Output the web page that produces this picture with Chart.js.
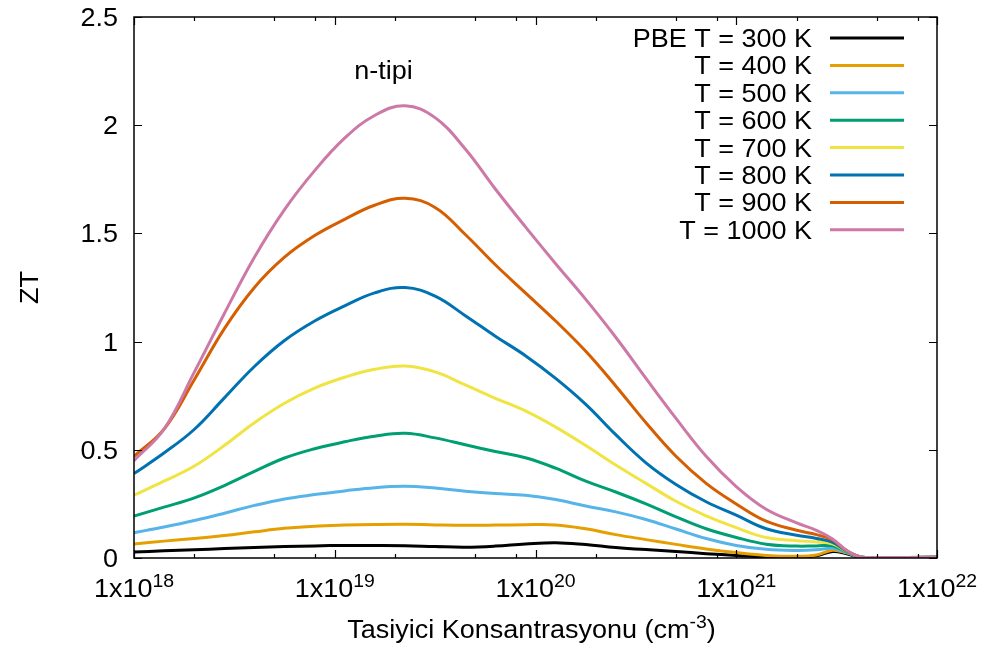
<!DOCTYPE html>
<html lang="tr">
<head>
<meta charset="UTF-8">
<title>ZT - n-tipi</title>
<script src="https://cdn.jsdelivr.net/npm/chart.js"></script>
<style>
  html, body { margin: 0; padding: 0; background: #fff; }
  #wrap { width: 993px; height: 653px; }
</style>
</head>
<body>
<div id="wrap"><canvas id="ztChart" width="993" height="653"></canvas></div>
<script>
// tasiyici konsantrasyonu (cm^-3)
const konsantrasyon = [1.0e18, 1.41e18, 2.0e18, 2.82e18, 3.98e18, 5.62e18, 7.94e18, 1.12e19, 1.58e19, 2.24e19,
  3.16e19, 4.47e19, 6.31e19, 8.91e19, 1.26e20, 1.78e20, 2.51e20, 3.55e20, 5.01e20, 7.08e20,
  1.0e21, 1.41e21, 2.0e21, 2.51e21, 3.02e21, 3.55e21, 4.17e21, 5.0e21, 1.0e22];

// ZT, her sicaklik icin
const zt300 = [0.028, 0.033, 0.038, 0.044, 0.049, 0.053, 0.056, 0.058, 0.058, 0.057,
  0.053, 0.050, 0.055, 0.065, 0.071, 0.062, 0.048, 0.039, 0.030, 0.020,
  0.012, 0.005, 0.003, 0.010, 0.030, 0.020, 0.002, 0.002, 0.003];
const zt400 = [0.065, 0.078, 0.090, 0.104, 0.121, 0.137, 0.147, 0.152, 0.155, 0.156,
  0.153, 0.151, 0.152, 0.154, 0.153, 0.135, 0.108, 0.085, 0.063, 0.042,
  0.025, 0.012, 0.008, 0.014, 0.036, 0.024, 0.003, 0.002, 0.003];
const zt500 = [0.117, 0.143, 0.173, 0.207, 0.243, 0.273, 0.293, 0.310, 0.325, 0.331,
  0.323, 0.309, 0.298, 0.290, 0.270, 0.240, 0.213, 0.178, 0.134, 0.090,
  0.058, 0.040, 0.035, 0.038, 0.045, 0.025, 0.004, 0.002, 0.003];
const zt600 = [0.194, 0.235, 0.278, 0.335, 0.400, 0.462, 0.505, 0.537, 0.563, 0.576,
  0.555, 0.523, 0.492, 0.463, 0.415, 0.355, 0.305, 0.250, 0.190, 0.135,
  0.095, 0.064, 0.055, 0.056, 0.056, 0.028, 0.005, 0.002, 0.003];
const zt700 = [0.290, 0.355, 0.425, 0.520, 0.625, 0.715, 0.785, 0.835, 0.872, 0.887,
  0.860, 0.800, 0.738, 0.680, 0.605, 0.520, 0.430, 0.345, 0.262, 0.195,
  0.140, 0.095, 0.080, 0.074, 0.066, 0.030, 0.005, 0.002, 0.003];
const zt800 = [0.390, 0.485, 0.595, 0.740, 0.885, 1.005, 1.095, 1.165, 1.225, 1.250,
  1.210, 1.120, 1.025, 0.935, 0.830, 0.710, 0.570, 0.440, 0.340, 0.260,
  0.198, 0.135, 0.105, 0.090, 0.072, 0.032, 0.005, 0.002, 0.003];
const zt900 = [0.470, 0.595, 0.825, 1.060, 1.250, 1.390, 1.490, 1.565, 1.630, 1.662,
  1.620, 1.495, 1.355, 1.225, 1.095, 0.955, 0.795, 0.625, 0.470, 0.345,
  0.250, 0.170, 0.128, 0.108, 0.083, 0.034, 0.005, 0.002, 0.003];
const zt1000 = [0.450, 0.595, 0.860, 1.130, 1.390, 1.610, 1.790, 1.940, 2.045, 2.090,
  2.035, 1.890, 1.705, 1.530, 1.360, 1.195, 1.020, 0.830, 0.645, 0.470,
  0.330, 0.225, 0.162, 0.128, 0.088, 0.035, 0.005, 0.002, 0.003];

const seriAdlari = ['PBE T = 300 K', 'T = 400 K', 'T = 500 K', 'T = 600 K',
  'T = 700 K', 'T = 800 K', 'T = 900 K', 'T = 1000 K'];
const seriRenkleri = ['#000000', '#e69f00', '#56b4e9', '#009e73',
  '#f0e442', '#0072b2', '#d55e00', '#cc79a7'];
const seriler = [zt300, zt400, zt500, zt600, zt700, zt800, zt900, zt1000];

// eksen isaretleri
const xUsler = [18, 19, 20, 21, 22];
const xAraCarpanlar = [2, 5, 8];
const yTikler = [0, 0.5, 1, 1.5, 2, 2.5];

const FONT = '"Liberation Sans", Arial, sans-serif';
const SX = 1.08; // yazilar yatayda biraz genis

function yaziGenisligi(ctx, text, size) {
  ctx.font = size + 'px ' + FONT;
  return ctx.measureText(text).width * SX;
}

function yaz(ctx, text, x, y, size, align) {
  ctx.save();
  ctx.font = size + 'px ' + FONT;
  ctx.textAlign = align || 'left';
  ctx.textBaseline = 'alphabetic';
  ctx.fillStyle = '#000';
  ctx.translate(x, y);
  ctx.scale(SX, 1);
  ctx.fillText(text, 0, 0);
  ctx.restore();
}

// usluyu ortalanmis sekilde yaz: taban + ust simge (+ son ek)
function usluYaz(ctx, taban, us, son, cx, y, size, supSize, rise) {
  const w1 = yaziGenisligi(ctx, taban, size);
  const w2 = yaziGenisligi(ctx, us, supSize);
  const w3 = son ? yaziGenisligi(ctx, son, size) : 0;
  let x = cx - (w1 + w2 + w3) / 2;
  yaz(ctx, taban, x, y, size);
  yaz(ctx, us, x + w1, y - rise, supSize);
  if (son) yaz(ctx, son, x + w1 + w2, y, size);
}

const cerceve = {
  id: 'cerceve',
  afterDraw(chart) {
    const ctx = chart.ctx;
    const a = chart.chartArea;
    const xs = chart.scales.x;
    const ys = chart.scales.y;

    ctx.save();
    ctx.strokeStyle = '#000';
    ctx.lineWidth = 1.5;
    ctx.strokeRect(a.left, a.top, a.right - a.left, a.bottom - a.top);

    // x tikleri (alt ve ust, ice dogru)
    ctx.lineWidth = 1.2;
    xs.ticks.forEach(t => {
      const px = Math.round(xs.getPixelForValue(t.value)) + 0.5;
      const len = t.major ? 8 : 4;
      ctx.beginPath();
      ctx.moveTo(px, a.bottom); ctx.lineTo(px, a.bottom - len);
      ctx.moveTo(px, a.top); ctx.lineTo(px, a.top + len);
      ctx.stroke();
    });
    // y tikleri (sol ve sag)
    yTikler.forEach(v => {
      const py = Math.round(ys.getPixelForValue(v)) + 0.5;
      ctx.beginPath();
      ctx.moveTo(a.left, py); ctx.lineTo(a.left + 8, py);
      ctx.moveTo(a.right, py); ctx.lineTo(a.right - 8, py);
      ctx.stroke();
    });
    ctx.restore();

    // y etiketleri
    yTikler.forEach(v => {
      yaz(ctx, String(v), a.left - 16, ys.getPixelForValue(v) + 9, 25, 'right');
    });
    // x etiketleri 1x10^n
    xUsler.forEach(n => {
      const px = xs.getPixelForValue(Math.pow(10, n));
      usluYaz(ctx, '1x10', String(n), '', px, a.bottom + 39, 25, 18, 10);
    });

    // eksen basliklari
    usluYaz(ctx, 'Tasiyici Konsantrasyonu (cm', '-3', ')', (a.left + a.right) / 2 - 4, a.bottom + 80, 25, 18, 10);
    ctx.save();
    ctx.translate(29, (a.top + a.bottom) / 2);
    ctx.rotate(-Math.PI / 2);
    yaz(ctx, 'ZT', 0, 9, 25, 'center');
    ctx.restore();

    // n-tipi notu
    yaz(ctx, 'n-tipi', xs.getPixelForValue(1.75e19), ys.getPixelForValue(2.25) + 8, 25, 'center');

    // lejant
    seriAdlari.forEach((ad, i) => {
      const yy = a.top + 21 + i * 27.4;
      yaz(ctx, ad, a.right - 125, yy + 9, 25, 'right');
      ctx.save();
      ctx.strokeStyle = seriRenkleri[i];
      ctx.lineWidth = 3;
      ctx.beginPath();
      ctx.moveTo(a.right - 107, yy);
      ctx.lineTo(a.right - 33, yy);
      ctx.stroke();
      ctx.restore();
    });
  }
};

new Chart(document.getElementById('ztChart'), {
  type: 'line',
  data: {
    datasets: seriler.map((s, i) => ({
      label: seriAdlari[i],
      data: konsantrasyon.map((k, j) => ({ x: k, y: s[j] })),
      borderColor: seriRenkleri[i],
      borderWidth: 3,
      pointRadius: 0,
      fill: false,
      tension: 0.4,
      order: seriler.length - 1 - i
    }))
  },
  options: {
    responsive: false,
    animation: false,
    devicePixelRatio: 1,
    layout: { padding: { left: 134, right: 56, top: 17, bottom: 95 } },
    plugins: { legend: { display: false }, tooltip: { enabled: false } },
    scales: {
      x: {
        type: 'logarithmic',
        min: 1e18,
        max: 1e22,
        grid: { display: false },
        border: { display: false },
        ticks: { display: false },
        afterFit: (scale) => { scale.height = 0; },
        afterBuildTicks: (scale) => {
          const t = [];
          xUsler.forEach((n, i) => {
            t.push({ value: Math.pow(10, n), major: true });
            if (i < xUsler.length - 1) {
              xAraCarpanlar.forEach(m => t.push({ value: m * Math.pow(10, n), major: false }));
            }
          });
          scale.ticks = t;
        }
      },
      y: {
        type: 'linear',
        min: 0,
        max: 2.5,
        grid: { display: false },
        border: { display: false },
        ticks: { display: false, stepSize: 0.5 },
        afterFit: (scale) => { scale.width = 0; }
      }
    }
  },
  plugins: [cerceve]
});
</script>
</body>
</html>
